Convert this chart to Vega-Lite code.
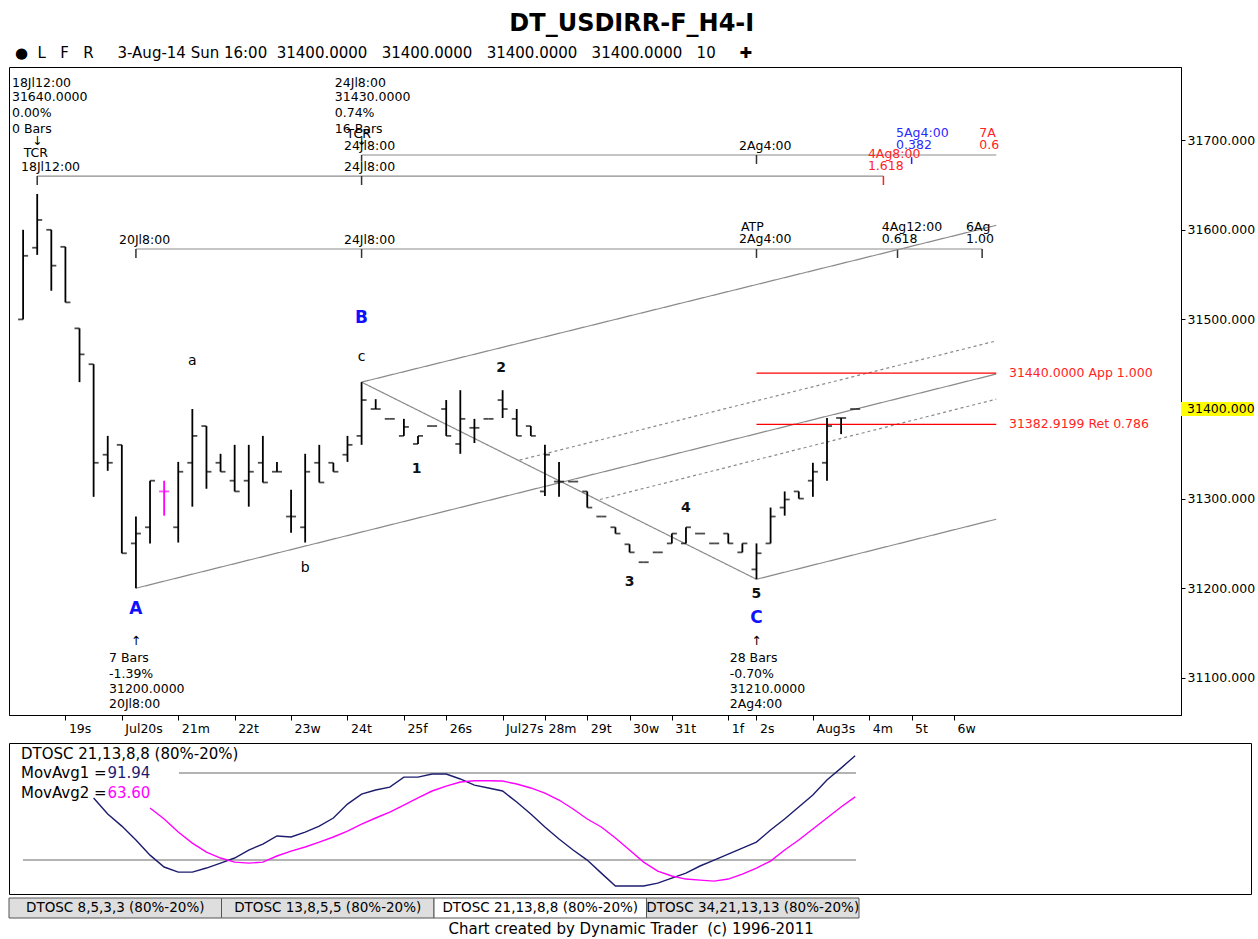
{
  "$schema": "https://vega.github.io/schema/vega-lite/v6.json",
  "background": "white",
  "padding": {"left": 8, "top": 11, "right": 0, "bottom": 0},
  "title": {"text": "DT_USDIRR-F_H4-I", "font": "DejaVu Sans", "fontSize": 24, "fontWeight": "bold", "color": "black", "anchor": "middle", "offset": 10},
  "config": {
    "font": "DejaVu Sans",
    "view": {"stroke": "black", "strokeWidth": 1},
    "axis": {"grid": false, "domainColor": "black", "tickColor": "black", "labelColor": "black", "labelFont": "DejaVu Sans", "labelFontSize": 12.5}
  },
  "resolve": {"scale": {"color": "independent", "strokeDash": "independent"}},
  "datasets": {
    "bars": [
      {"i":1,"o":31500,"h":31600,"l":31500,"c":31571},
      {"i":2,"o":31580,"h":31640,"l":31572,"c":31611},
      {"i":3,"o":31600,"h":31600,"l":31532,"c":31560},
      {"i":4,"o":31581,"h":31581,"l":31519,"c":31519},
      {"i":5,"o":31490,"h":31490,"l":31430,"c":31461},
      {"i":6,"o":31450,"h":31450,"l":31302,"c":31340},
      {"i":7,"o":31349,"h":31370,"l":31331,"c":31340},
      {"i":8,"o":31360,"h":31360,"l":31239,"c":31239},
      {"i":9,"o":31250,"h":31280,"l":31200,"c":31261},
      {"i":10,"o":31268,"h":31320,"l":31250,"c":31320},
      {"i":11,"o":31308,"h":31320,"l":31281,"c":31308},
      {"i":12,"o":31268,"h":31341,"l":31251,"c":31330},
      {"i":13,"o":31340,"h":31400,"l":31291,"c":31370},
      {"i":14,"o":31381,"h":31381,"l":31311,"c":31330},
      {"i":15,"o":31340,"h":31350,"l":31330,"c":31330},
      {"i":16,"o":31320,"h":31360,"l":31308,"c":31308},
      {"i":17,"o":31320,"h":31360,"l":31291,"c":31330},
      {"i":18,"o":31340,"h":31370,"l":31318,"c":31318},
      {"i":19,"o":31330,"h":31341,"l":31330,"c":31330},
      {"i":20,"o":31280,"h":31310,"l":31262,"c":31280},
      {"i":21,"o":31268,"h":31350,"l":31251,"c":31330},
      {"i":22,"o":31340,"h":31360,"l":31318,"c":31318},
      {"i":23,"o":31340,"h":31340,"l":31330,"c":31330},
      {"i":24,"o":31349,"h":31370,"l":31341,"c":31360},
      {"i":25,"o":31370,"h":31430,"l":31360,"c":31410},
      {"i":26,"o":31400,"h":31411,"l":31400,"c":31400},
      {"i":27,"o":31389,"h":31389,"l":31389,"c":31389},
      {"i":28,"o":31370,"h":31389,"l":31370,"c":31380},
      {"i":29,"o":31361,"h":31370,"l":31361,"c":31370},
      {"i":30,"o":31381,"h":31381,"l":31381,"c":31381},
      {"i":31,"o":31400,"h":31410,"l":31370,"c":31370},
      {"i":32,"o":31361,"h":31421,"l":31350,"c":31389},
      {"i":33,"o":31379,"h":31389,"l":31362,"c":31379},
      {"i":34,"o":31389,"h":31389,"l":31389,"c":31389},
      {"i":35,"o":31410,"h":31421,"l":31390,"c":31400},
      {"i":36,"o":31389,"h":31400,"l":31370,"c":31370},
      {"i":37,"o":31381,"h":31381,"l":31370,"c":31370},
      {"i":38,"o":31308,"h":31360,"l":31303,"c":31349},
      {"i":39,"o":31319,"h":31341,"l":31302,"c":31319},
      {"i":40,"o":31319,"h":31319,"l":31319,"c":31319},
      {"i":41,"o":31308,"h":31308,"l":31290,"c":31290},
      {"i":42,"o":31280,"h":31280,"l":31280,"c":31280},
      {"i":43,"o":31268,"h":31268,"l":31261,"c":31261},
      {"i":44,"o":31249,"h":31249,"l":31240,"c":31240},
      {"i":45,"o":31229,"h":31229,"l":31229,"c":31229},
      {"i":46,"o":31240,"h":31240,"l":31240,"c":31240},
      {"i":47,"o":31250,"h":31261,"l":31250,"c":31261},
      {"i":48,"o":31250,"h":31268,"l":31250,"c":31268},
      {"i":49,"o":31261,"h":31261,"l":31261,"c":31261},
      {"i":50,"o":31250,"h":31250,"l":31250,"c":31250},
      {"i":51,"o":31261,"h":31261,"l":31250,"c":31250},
      {"i":52,"o":31240,"h":31250,"l":31240,"c":31250},
      {"i":53,"o":31221,"h":31250,"l":31210,"c":31239},
      {"i":54,"o":31250,"h":31290,"l":31250,"c":31280},
      {"i":55,"o":31290,"h":31308,"l":31281,"c":31299},
      {"i":56,"o":31308,"h":31308,"l":31300,"c":31300},
      {"i":57,"o":31320,"h":31340,"l":31302,"c":31330},
      {"i":58,"o":31340,"h":31390,"l":31320,"c":31381},
      {"i":59,"o":31390,"h":31390,"l":31372,"c":31390},
      {"i":60,"o":31400,"h":31400,"l":31400,"c":31400}
    ],
    "lines": [
      {"id":"A","k":"s","i":9,"p":31200},{"id":"A","k":"s","i":70,"p":31439},
      {"id":"U","k":"s","i":25,"p":31430},{"id":"U","k":"s","i":70,"p":31605},
      {"id":"L","k":"s","i":53,"p":31210},{"id":"L","k":"s","i":70,"p":31277},
      {"id":"cC","k":"s","i":25,"p":31430},{"id":"cC","k":"s","i":53,"p":31210},
      {"id":"d1","k":"d","i":36.2,"p":31343},{"id":"d1","k":"d","i":70,"p":31476},
      {"id":"d2","k":"d","i":41.9,"p":31299},{"id":"d2","k":"d","i":70,"p":31411}
    ],
    "proj": [
      {"i":2,"i2":62,"p":31660},
      {"i":25,"i2":70,"p":31683.5},
      {"i":9,"i2":69,"p":31578.6}
    ],
    "pticks": [
      {"i":2,"p":31660,"p2":31650,"k":"g"},
      {"i":25,"p":31660,"p2":31650,"k":"g"},
      {"i":62,"p":31660,"p2":31650,"k":"r"},
      {"i":25,"p":31683.5,"p2":31676,"k":"g"},
      {"i":53,"p":31683.5,"p2":31673.5,"k":"g"},
      {"i":64,"p":31681,"p2":31673.5,"k":"b"},
      {"i":9,"p":31578.6,"p2":31568.6,"k":"g"},
      {"i":25,"p":31578.6,"p2":31568.6,"k":"g"},
      {"i":53,"p":31578.6,"p2":31568.6,"k":"g"},
      {"i":63,"p":31578.6,"p2":31568.6,"k":"g"},
      {"i":69,"p":31578.6,"p2":31568.6,"k":"g"}
    ],
    "levels": [
      {"i":53,"i2":70,"p":31440},
      {"i":53,"i2":70,"p":31382.92}
    ],
    "ann": [
      {"i":0.21,"p":31764,"t":"18Jl12:00","g":"n"},
      {"i":0.21,"p":31748,"t":"31640.0000","g":"n"},
      {"i":0.21,"p":31730,"t":"0.00%","g":"n"},
      {"i":0.21,"p":31712,"t":"0 Bars","g":"n"},
      {"i":0.85,"p":31670,"t":"18Jl12:00","g":"n"},
      {"i":23.1,"p":31764,"t":"24Jl8:00","g":"n"},
      {"i":23.1,"p":31748,"t":"31430.0000","g":"n"},
      {"i":23.1,"p":31730,"t":"0.74%","g":"n"},
      {"i":23.1,"p":31712,"t":"16 Bars","g":"n"},
      {"i":23.75,"p":31693.5,"t":"24Jl8:00","g":"n"},
      {"i":23.75,"p":31670,"t":"24Jl8:00","g":"n"},
      {"i":7.8,"p":31588.6,"t":"20Jl8:00","g":"n"},
      {"i":23.75,"p":31588.6,"t":"24Jl8:00","g":"n"},
      {"i":51.76,"p":31693.5,"t":"2Ag4:00","g":"n"},
      {"i":51.9,"p":31603,"t":"ATP","g":"n"},
      {"i":51.76,"p":31590,"t":"2Ag4:00","g":"n"},
      {"i":61.88,"p":31603,"t":"4Ag12:00","g":"n"},
      {"i":61.88,"p":31590,"t":"0.618","g":"n"},
      {"i":67.86,"p":31603,"t":"6Ag","g":"n"},
      {"i":67.86,"p":31590,"t":"1.00","g":"n"},
      {"i":7.09,"p":31122,"t":"7 Bars","g":"n"},
      {"i":7.09,"p":31104,"t":"-1.39%","g":"n"},
      {"i":7.09,"p":31087.5,"t":"31200.0000","g":"n"},
      {"i":7.09,"p":31071,"t":"20Jl8:00","g":"n"},
      {"i":51.1,"p":31122,"t":"28 Bars","g":"n"},
      {"i":51.1,"p":31104,"t":"-0.70%","g":"n"},
      {"i":51.1,"p":31087.5,"t":"31210.0000","g":"n"},
      {"i":51.1,"p":31071,"t":"2Ag4:00","g":"n"},
      {"i":2,"p":31699,"t":"↓","g":"nc"},
      {"i":1.9,"p":31686,"t":"TCR","g":"nc"},
      {"i":24.8,"p":31707,"t":"TCR","g":"nc"},
      {"i":25,"p":31699,"t":"↓","g":"nc"},
      {"i":9,"p":31141,"t":"↑","g":"nc"},
      {"i":53,"p":31141,"t":"↑","g":"nc"},
      {"i":60.9,"p":31685,"t":"4Ag8:00","g":"r"},
      {"i":60.9,"p":31671,"t":"1.618","g":"r"},
      {"i":68.8,"p":31707.7,"t":"7A","g":"r"},
      {"i":68.8,"p":31694.6,"t":"0.6","g":"r"},
      {"i":70.9,"p":31440,"t":"31440.0000 App 1.000","g":"r"},
      {"i":70.9,"p":31382.92,"t":"31382.9199 Ret 0.786","g":"r"},
      {"i":62.9,"p":31707.7,"t":"5Ag4:00","g":"bl"},
      {"i":62.9,"p":31694.6,"t":"0.382","g":"bl"},
      {"i":28.9,"p":31333,"t":"1","g":"w"},
      {"i":34.9,"p":31446,"t":"2","g":"w"},
      {"i":44,"p":31207,"t":"3","g":"w"},
      {"i":48,"p":31290,"t":"4","g":"w"},
      {"i":53,"p":31194,"t":"5","g":"w"},
      {"i":13,"p":31453.6,"t":"a","g":"lc"},
      {"i":21,"p":31223,"t":"b","g":"lc"},
      {"i":25,"p":31458,"t":"c","g":"lc"},
      {"i":9,"p":31177,"t":"A","g":"AB"},
      {"i":25,"p":31501.6,"t":"B","g":"AB"},
      {"i":53,"p":31167,"t":"C","g":"AB"}
    ],
    "osc": [
      {"i":6,"m1":62.8},{"i":7,"m1":51.7},{"i":8,"m1":43.4},{"i":9,"m1":33.8},
      {"i":10,"m1":23.4,"m2":55.9},{"i":11,"m1":15.2,"m2":48.3},{"i":12,"m1":11.7,"m2":39.3},
      {"i":13,"m1":11.7,"m2":31.7},{"i":14,"m1":14.5,"m2":25.5},{"i":15,"m1":17.9,"m2":21.4},
      {"i":16,"m1":21.4,"m2":18.6},{"i":17,"m1":26.9,"m2":17.9},{"i":18,"m1":31,"m2":18.6},
      {"i":19,"m1":36.6,"m2":22.8},{"i":20,"m1":35.9,"m2":26.2},{"i":21,"m1":39.3,"m2":29},
      {"i":22,"m1":43.4,"m2":32.4},{"i":23,"m1":49,"m2":35.9},{"i":24,"m1":58.6,"m2":40},
      {"i":25,"m1":65.5,"m2":44.8},{"i":26,"m1":68.3,"m2":49},{"i":27,"m1":70.3,"m2":53.1},
      {"i":28,"m1":77.2,"m2":57.9},{"i":29,"m1":77.2,"m2":62.8},{"i":30,"m1":79.3,"m2":67.6},
      {"i":31,"m1":79.3,"m2":71},{"i":32,"m1":75.9,"m2":73.8},{"i":33,"m1":71.7,"m2":74.7},
      {"i":34,"m1":69.7,"m2":74.7},{"i":35,"m1":67.6,"m2":74.5},{"i":36,"m1":60,"m2":72.4},
      {"i":37,"m1":51.7,"m2":69.7},{"i":38,"m1":42.8,"m2":66.2},{"i":39,"m1":34.5,"m2":61.4},
      {"i":40,"m1":26.9,"m2":55.2},{"i":41,"m1":20,"m2":48.3},{"i":42,"m1":11,"m2":42.8},
      {"i":43,"m1":2.1,"m2":35.2},{"i":44,"m1":2.1,"m2":26.9},{"i":45,"m1":2.1,"m2":18.6},
      {"i":46,"m1":4.1,"m2":12.4},{"i":47,"m1":7.6,"m2":9},{"i":48,"m1":11,"m2":6.9},
      {"i":49,"m1":15.9,"m2":6.2},{"i":50,"m1":20,"m2":5.5},{"i":51,"m1":24.1,"m2":6.9},
      {"i":52,"m1":28.3,"m2":10.3},{"i":53,"m1":32.4,"m2":14.5},{"i":54,"m1":40.7,"m2":19.3},
      {"i":55,"m1":48.3,"m2":26.9},{"i":56,"m1":56.6,"m2":33.8},{"i":57,"m1":64.8,"m2":41.4},
      {"i":58,"m1":75.2,"m2":49},{"i":59,"m1":83.4,"m2":56.6},{"i":60,"m1":91.94,"m2":63.6}
    ],
    "oscl": [
      {"i":12.05,"i2":60.06,"v":80},
      {"i":0.99,"i2":60.06,"v":20}
    ],
    "oscann": [
      {"i":0.85,"v":93.1,"t":"DTOSC 21,13,8,8 (80%-20%)","g":"n"},
      {"i":0.85,"v":80,"t":"MovAvg1 =","g":"n"},
      {"i":0.85,"v":66.2,"t":"MovAvg2 =","g":"n"},
      {"i":6.98,"v":80,"t":"91.94","g":"v1"},
      {"i":6.98,"v":66.2,"t":"63.60","g":"v2"}
    ],
    "tabs": [
      {"tab":"DTOSC 8,5,3,3 (80%-20%)","state":"off"},
      {"tab":"DTOSC 13,8,5,5 (80%-20%)","state":"off"},
      {"tab":"DTOSC 21,13,8,8 (80%-20%)","state":"on"},
      {"tab":"DTOSC 34,21,13,13 (80%-20%)","state":"off"}
    ]
  },
  "spacing": 0,
  "vconcat": [
    {
      "width": 1172,
      "height": 648,
      "title": {"text": "●\u00a0\u00a0L\u00a0\u00a0\u00a0F\u00a0\u00a0\u00a0R\u00a0\u00a0\u00a0\u00a0\u00a03-Aug-14 Sun 16:00\u00a0\u00a031400.0000\u00a0\u00a0\u00a031400.0000\u00a0\u00a0\u00a031400.0000\u00a0\u00a0\u00a031400.0000\u00a0\u00a0\u00a010\u00a0\u00a0\u00a0\u00a0\u00a0✚", "anchor": "start", "font": "DejaVu Sans", "fontSize": 15, "fontWeight": "normal", "color": "black", "offset": 6, "dx": 6},
      "encoding": {
        "x": {"field": "i", "type": "quantitative",
          "scale": {"domain": [0, 83.1], "nice": false, "zero": false},
          "axis": {"orient": "bottom", "title": null,
            "values": [4,8,12,16,20,24,28,31,35,38,41,44,47,51,53,57,61,64,67],
            "labelExpr": "['19s','Jul20s','21m','22t','23w','24t','25f','26s','Jul27s','28m','29t','30w','31t','1f','2s','Aug3s','4m','5t','6w'][indexof([4,8,12,16,20,24,28,31,35,38,41,44,47,51,53,57,61,64,67], datum.value)]",
            "labelAlign": "left", "labelOffset": 3, "labelPadding": 2, "labelBaseline": "top", "tickSize": 5,
            "labelFlush": false, "labelOverlap": false, "labelBound": false, "minExtent": 26, "maxExtent": 26}},
        "y": {"field": "p", "type": "quantitative",
          "scale": {"domain": [31058.5, 31781.7], "nice": false, "zero": false},
          "axis": {"orient": "right", "title": null,
            "values": [31100,31200,31300,31400,31500,31600,31700],
            "labelExpr": "datum.value == 31400 ? '' : format(datum.value, '.3f')",
            "tickSize": 4, "labelPadding": 2, "labelOverlap": false}}
      },
      "layer": [
        {
          "data": {"name": "proj"},
          "mark": {"type": "rule", "color": "#8c8c8c", "strokeWidth": 1.2},
          "encoding": {"x2": {"field": "i2"}}
        },
        {
          "data": {"name": "pticks"},
          "mark": {"type": "rule", "strokeWidth": 1.5},
          "encoding": {
            "y2": {"field": "p2"},
            "color": {"field": "k", "type": "nominal", "scale": {"domain": ["g","r","b"], "range": ["#333333","#ff2020","#2020ff"]}, "legend": null}
          }
        },
        {
          "data": {"name": "lines"},
          "mark": {"type": "line", "color": "#8a8a8a", "strokeWidth": 1.2},
          "encoding": {
            "detail": {"field": "id"},
            "strokeDash": {"field": "k", "type": "nominal", "scale": {"domain": ["s","d"], "range": [[1,0],[3,3]]}, "legend": null}
          }
        },
        {
          "data": {"name": "levels"},
          "mark": {"type": "rule", "color": "#ff0000", "strokeWidth": 1.3},
          "encoding": {"x2": {"field": "i2"}}
        },
        {
          "data": {"name": "bars"},
          "mark": {"type": "rule", "strokeWidth": 1.8},
          "encoding": {
            "y": {"field": "l", "type": "quantitative"},
            "y2": {"field": "h"},
            "color": {"condition": {"test": "datum.i === 11", "value": "#ff00ff"}, "value": "#000000"}
          }
        },
        {
          "data": {"name": "bars"},
          "mark": {"type": "tick", "orient": "horizontal", "size": 5, "thickness": 1.8, "xOffset": -2.5},
          "encoding": {
            "y": {"field": "o", "type": "quantitative"},
            "color": {"condition": {"test": "datum.i === 11", "value": "#ff00ff"}, "value": "#000000"}
          }
        },
        {
          "data": {"name": "bars"},
          "mark": {"type": "tick", "orient": "horizontal", "size": 5, "thickness": 1.8, "xOffset": 2.5},
          "encoding": {
            "y": {"field": "c", "type": "quantitative"},
            "color": {"condition": {"test": "datum.i === 11", "value": "#ff00ff"}, "value": "#000000"}
          }
        },
        {
          "data": {"name": "ann"},
          "transform": [{"filter": "datum.g == 'n'"}],
          "mark": {"type": "text", "align": "left", "baseline": "middle", "fontSize": 12.5, "color": "#000000"},
          "encoding": {"text": {"field": "t"}}
        },
        {
          "data": {"name": "ann"},
          "transform": [{"filter": "datum.g == 'nc'"}],
          "mark": {"type": "text", "align": "center", "baseline": "middle", "fontSize": 12.5, "color": "#000000"},
          "encoding": {"text": {"field": "t"}}
        },
        {
          "data": {"name": "ann"},
          "transform": [{"filter": "datum.g == 'r'"}],
          "mark": {"type": "text", "align": "left", "baseline": "middle", "fontSize": 12.5, "color": "#ff2424"},
          "encoding": {"text": {"field": "t"}}
        },
        {
          "data": {"name": "ann"},
          "transform": [{"filter": "datum.g == 'bl'"}],
          "mark": {"type": "text", "align": "left", "baseline": "middle", "fontSize": 12.5, "color": "#2a2aff"},
          "encoding": {"text": {"field": "t"}}
        },
        {
          "data": {"name": "ann"},
          "transform": [{"filter": "datum.g == 'w'"}],
          "mark": {"type": "text", "align": "center", "baseline": "middle", "fontSize": 14, "fontWeight": "bold", "color": "#111111"},
          "encoding": {"text": {"field": "t"}}
        },
        {
          "data": {"name": "ann"},
          "transform": [{"filter": "datum.g == 'lc'"}],
          "mark": {"type": "text", "align": "center", "baseline": "middle", "fontSize": 14, "color": "#000000"},
          "encoding": {"text": {"field": "t"}}
        },
        {
          "data": {"name": "ann"},
          "transform": [{"filter": "datum.g == 'AB'"}],
          "mark": {"type": "text", "align": "center", "baseline": "middle", "fontSize": 17, "fontWeight": "bold", "color": "#1010ff"},
          "encoding": {"text": {"field": "t"}}
        },
        {
          "data": {"name": "bars"},
          "transform": [{"filter": "datum.i == 60"}],
          "mark": {"type": "point", "shape": "M0,-0.5H5.2V0.5H0Z", "size": 784, "filled": true, "color": "#ffff00", "opacity": 1, "strokeWidth": 0},
          "encoding": {
            "x": {"datum": 83.1, "type": "quantitative"},
            "y": {"field": "c", "type": "quantitative"}
          }
        },
        {
          "data": {"name": "bars"},
          "transform": [{"filter": "datum.i == 60"}],
          "mark": {"type": "text", "align": "left", "baseline": "middle", "dx": 6, "fontSize": 12.5, "color": "#000000"},
          "encoding": {
            "x": {"datum": 83.1, "type": "quantitative"},
            "y": {"field": "c", "type": "quantitative"},
            "text": {"field": "c", "format": ".3f"}
          }
        }
      ]
    },
    {
      "spacing": 2,
      "vconcat": [
        {
          "width": 1242,
          "height": 151,
          "encoding": {
            "x": {"field": "i", "type": "quantitative", "scale": {"domain": [0, 88.07], "nice": false, "zero": false}, "axis": null},
            "y": {"field": "v", "type": "quantitative", "scale": {"domain": [-3.4, 100.7], "nice": false, "zero": false}, "axis": null}
          },
          "layer": [
            {
              "data": {"name": "oscl"},
              "mark": {"type": "rule", "color": "#9a9a9a", "strokeWidth": 1.5},
              "encoding": {"x2": {"field": "i2"}}
            },
            {
              "data": {"name": "osc"},
              "mark": {"type": "line", "color": "#1c1c6e", "strokeWidth": 1.4},
              "encoding": {"y": {"field": "m1", "type": "quantitative", "axis": null}}
            },
            {
              "data": {"name": "osc"},
              "mark": {"type": "line", "color": "#ff00ff", "strokeWidth": 1.4},
              "encoding": {"y": {"field": "m2", "type": "quantitative", "axis": null}}
            },
            {
              "data": {"name": "oscann"},
              "transform": [{"filter": "datum.g == 'n'"}],
              "mark": {"type": "text", "align": "left", "baseline": "middle", "fontSize": 15, "color": "#000000"},
              "encoding": {"text": {"field": "t"}}
            },
            {
              "data": {"name": "oscann"},
              "transform": [{"filter": "datum.g == 'v1'"}],
              "mark": {"type": "text", "align": "left", "baseline": "middle", "fontSize": 15, "color": "#1c1c6e"},
              "encoding": {"text": {"field": "t"}}
            },
            {
              "data": {"name": "oscann"},
              "transform": [{"filter": "datum.g == 'v2'"}],
              "mark": {"type": "text", "align": "left", "baseline": "middle", "fontSize": 15, "color": "#ff00ff"},
              "encoding": {"text": {"field": "t"}}
            }
          ]
        },
        {
          "width": 850,
          "height": 20,
          "view": {"stroke": null},
          "data": {"name": "tabs"},
          "title": {"text": "Chart created by Dynamic Trader\u00a0\u00a0(c) 1996-2011", "orient": "bottom", "anchor": "start", "dx": 440, "font": "DejaVu Sans", "fontSize": 15, "fontWeight": "normal", "color": "black", "offset": 3},
          "encoding": {
            "x": {"field": "tab", "type": "nominal", "axis": null,
              "scale": {"domain": ["DTOSC 8,5,3,3 (80%-20%)", "DTOSC 13,8,5,5 (80%-20%)", "DTOSC 21,13,8,8 (80%-20%)", "DTOSC 34,21,13,13 (80%-20%)"], "paddingInner": 0, "paddingOuter": 0}}
          },
          "layer": [
            {
              "transform": [{"filter": "datum.state == 'off'"}],
              "mark": {"type": "bar", "fill": "#dedede", "stroke": "#555555", "strokeWidth": 1}
            },
            {
              "transform": [{"filter": "datum.state == 'on'"}],
              "mark": {"type": "bar", "fill": "#ffffff", "stroke": "#555555", "strokeWidth": 1}
            },
            {
              "mark": {"type": "text", "fontSize": 13.5, "color": "#000000", "baseline": "middle"},
              "encoding": {"text": {"field": "tab"}}
            }
          ]
        }
      ]
    }
  ]
}
